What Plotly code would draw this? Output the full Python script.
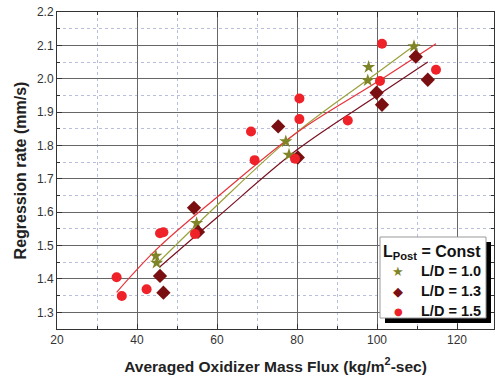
import plotly.graph_objects as go

# L/D = 1.0 (stars)
x10 = [44.7, 44.9, 54.9, 77.2, 78.0, 97.7, 97.9, 109.25]
y10 = [1.469, 1.448, 1.567, 1.812, 1.772, 1.995, 2.035, 2.097]
# L/D = 1.3 (diamonds)
x13 = [45.75, 46.6, 54.25, 55.25, 75.3, 80.2, 99.9, 101.25, 109.7, 112.7]
y13 = [1.409, 1.359, 1.613, 1.541, 1.857, 1.764, 1.958, 1.922, 2.066, 1.997]
# L/D = 1.5 (circles)
x15 = [34.9, 36.2, 42.4, 45.75, 46.6, 54.5, 68.5, 69.4, 79.5, 80.6, 80.6, 92.7, 100.75, 101.25, 114.75]
y15 = [1.405, 1.349, 1.369, 1.537, 1.540, 1.535, 1.842, 1.756, 1.760, 1.941, 1.879, 1.875, 1.993, 2.105, 2.027]

# fit curves
fx10 = [45.2, 60, 80, 100, 109.25]
fy10 = [1.448, 1.621, 1.840, 2.017, 2.099]
fx13 = [45.6, 60, 80, 100, 112.7]
fy13 = [1.435, 1.584, 1.787, 1.949, 2.050]
fx15 = [34.9, 45, 60, 80, 100, 114.75]
fy15 = [1.360, 1.490, 1.645, 1.839, 1.990, 2.105]

series_names = ["L/D = 1.0", "L/D = 1.3", "L/D = 1.5"]
legend_title = "L<sub>Post</sub> = Const"

c10 = "#7f8527"
c13 = "#7a0f12"
c15 = "#ee2228"
l10 = "#9aa03a"
l13 = "#7a1020"
l15 = "#e8323a"

fig = go.Figure()
for fx, fy, lc in [(fx10, fy10, l10), (fx13, fy13, l13), (fx15, fy15, l15)]:
    fig.add_trace(go.Scatter(x=fx, y=fy, mode="lines", line=dict(color=lc, width=1.2, shape="spline"),
                             showlegend=False, hoverinfo="skip"))

fig.add_trace(go.Scatter(x=x10, y=y10, mode="markers", name=series_names[0], showlegend=False,
                         marker=dict(symbol="star", size=10, color=c10)))
fig.add_trace(go.Scatter(x=x13, y=y13, mode="markers", name=series_names[1], showlegend=False,
                         marker=dict(symbol="diamond", size=11, color=c13)))
fig.add_trace(go.Scatter(x=x15, y=y15, mode="markers", name=series_names[2], showlegend=False,
                         marker=dict(symbol="circle", size=10, color=c15)))

W, H = 495, 383
ml, mr, mt, mb = 57, 1, 12, 54
pw, ph = W - ml - mr, H - mt - mb

def px2paper(x, y):
    return (x - ml) / pw, (H - mb - y) / ph

font = "Liberation Sans, Arial, sans-serif"
axis_common = dict(
    showline=True, linecolor="#333", linewidth=1, mirror="ticks",
    ticks="inside", ticklen=5, tickcolor="#333",
    showgrid=True, gridcolor="#666", gridwidth=1, zeroline=False,
    tickfont=dict(family=font, size=12, color="#333"),
)

fig.update_xaxes(range=[20, 20 + pw / 4], dtick=20, tick0=20,
                 minor=dict(dtick=10, ticks="inside", ticklen=3, tickcolor="#333",
                            showgrid=True, gridcolor="#b8bedc", griddash="dot", gridwidth=1),
                 title=dict(text="<b>Averaged Oxidizer Mass Flux (kg/m<sup>2</sup>-sec)</b>",
                            font=dict(family=font, size=15.5, color="#222"), standoff=14),
                 **axis_common)
fig.update_yaxes(range=[1.25, 2.2], dtick=0.1, tick0=1.3, tickformat=".1f",
                 minor=dict(dtick=0.05, ticks="inside", ticklen=3, tickcolor="#333",
                            showgrid=True, gridcolor="#b8bedc", griddash="dot", gridwidth=1),
                 title=dict(text="<b>Regression rate (mm/s)</b>",
                            font=dict(family=font, size=16, color="#222"), standoff=6),
                 **axis_common)

# hand-built legend box with drop shadow
bx0, by0, bx1, by1 = 380, 237, 486, 318
sh = 5
x0p, y1p = px2paper(bx0 + sh, by0 + sh)
x1p, y0p = px2paper(bx1 + sh, by1 + sh)
fig.add_shape(type="rect", xref="paper", yref="paper", x0=x0p, y0=y0p, x1=x1p, y1=y1p,
              fillcolor="black", line=dict(width=0), layer="above")
x0p, y1p = px2paper(bx0, by0)
x1p, y0p = px2paper(bx1, by1)
fig.add_shape(type="rect", xref="paper", yref="paper", x0=x0p, y0=y0p, x1=x1p, y1=y1p,
              fillcolor="white", line=dict(width=1, color="#999"), layer="above")

tx, ty = px2paper(381, 252)
fig.add_annotation(xref="paper", yref="paper", x=tx, y=ty, xanchor="left", yanchor="middle",
                   text="<b>" + legend_title + "</b>", showarrow=False,
                   font=dict(family=font, size=16, color="#111"))
symbols = ["★", "◆", "●"]
sym_sizes = [13, 13, 10]
colors = [c10, c13, c15]
for i, (nm, s, ss, col) in enumerate(zip(series_names, symbols, sym_sizes, colors)):
    yy = 271 + 20 * i
    sx, sy = px2paper(398, yy)
    fig.add_annotation(xref="paper", yref="paper", x=sx, y=sy, xanchor="center", yanchor="middle",
                       text=s, showarrow=False, font=dict(family="DejaVu Sans", size=ss, color=col))
    nx, ny = px2paper(419, yy)
    fig.add_annotation(xref="paper", yref="paper", x=nx, y=ny, xanchor="left", yanchor="middle",
                       text="<b>" + nm + "</b>", showarrow=False,
                       font=dict(family=font, size=14.5, color="#111"))

fig.update_layout(
    width=W, height=H, margin=dict(l=ml, r=mr, t=mt, b=mb),
    plot_bgcolor="white", paper_bgcolor="white",
    font=dict(family=font, color="#222"),
    showlegend=False,
)

fig.write_html("out.html")
